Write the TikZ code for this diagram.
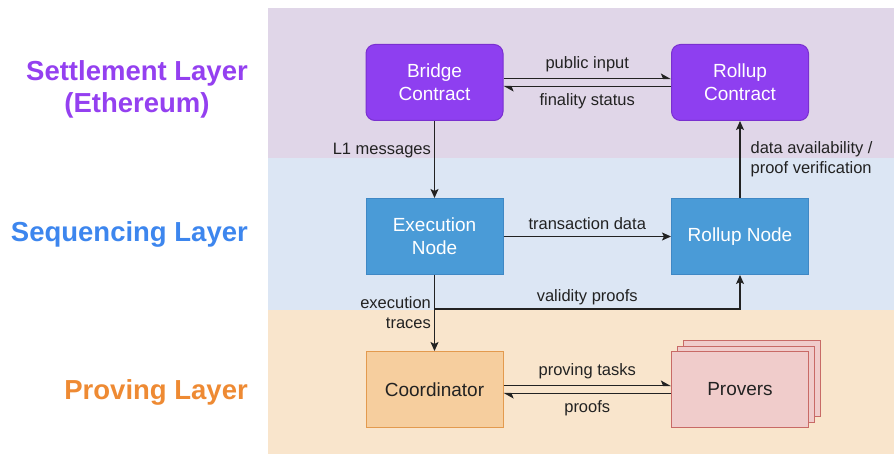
\documentclass[tikz,border=0pt]{standalone}
\usepackage{fontspec}
\setmainfont{Liberation Sans}
\usetikzlibrary{arrows.meta}

\definecolor{setbg}{HTML}{E0D6E8}
\definecolor{seqbg}{HTML}{DCE6F4}
\definecolor{provbg}{HTML}{F9E5CC}
\definecolor{purfill}{HTML}{8E3FF0}
\definecolor{purline}{HTML}{7A30D0}
\definecolor{bluefill}{HTML}{4A9BD7}
\definecolor{blueline}{HTML}{3F88C5}
\definecolor{orfill}{HTML}{F6CE9E}
\definecolor{orline}{HTML}{E39A4E}
\definecolor{redfill}{HTML}{F0CCCB}
\definecolor{redline}{HTML}{C86A66}
\definecolor{ttlpur}{HTML}{9440F0}
\definecolor{ttlblue}{HTML}{3D86EE}
\definecolor{ttlor}{HTML}{EE8A33}
\definecolor{ink}{HTML}{222222}

\begin{document}
\begin{tikzpicture}[x=1pt,y=-1pt,
  box/.style={minimum width=137pt,minimum height=76pt,line width=1pt,align=center,
    font=\fontsize{19}{23}\selectfont,inner sep=0pt},
  purplebox/.style={box,rounded corners=9pt,fill=purfill,draw=purline,text=white},
  bluebox/.style={box,fill=bluefill,draw=blueline,text=white},
  orangebox/.style={box,fill=orfill,draw=orline,text=ink},
  redbox/.style={box,fill=redfill,draw=redline,text=ink},
  lbl/.style={font=\fontsize{16.5}{20}\selectfont,text=ink,inner sep=1pt},
  ttl/.style={font=\fontsize{27.5}{32}\selectfont\bfseries,align=center,anchor=east,inner sep=0pt},
  arr/.style={draw=ink,line width=1.2pt,-{Stealth[length=9pt,width=8pt,inset=2pt]}},
  harp/.style={draw=ink,line width=1.2pt,-{Stealth[harpoon,length=9pt,width=10pt,inset=2pt]}},
  plain/.style={draw=ink,line width=1.2pt}]
\useasboundingbox (0,0) rectangle (894,454);

% layer bands
\fill[setbg] (268,8) rectangle (894,158);
\fill[seqbg] (268,158) rectangle (894,310);
\fill[provbg] (268,310) rectangle (894,454);

% layer titles
\node[ttl,text=ttlpur] (tset) at (248,89) {Settlement Layer\\(Ethereum)};
\node[ttl,text=ttlblue] (tseq) at (248,234) {Sequencing Layer};
\node[ttl,text=ttlor] (tprov) at (248,392) {Proving Layer};

% components
\node[purplebox] (bridge) at (434.5,82.5) {Bridge\\Contract};
\node[purplebox] (rc) at (740,82.5) {Rollup\\Contract};
\node[bluebox] (exec) at (434.5,236.5) {Execution\\Node};
\node[bluebox] (rn) at (740,236.5) {Rollup Node};
\node[orangebox] (coord) at (434.5,389.5) {Coordinator};
\node[redbox] (pv3) at (752,378.5) {};
\node[redbox] (pv2) at (746,384) {};
\node[redbox] (prov) at (740,389.5) {Provers};

% settlement exchange
\draw[harp] ([yshift=4pt]bridge.east) -- ([yshift=4pt]rc.west)
  node[lbl,midway,above=5pt] {public input};
\draw[harp] ([yshift=-4pt]rc.west) -- ([yshift=-4pt]bridge.east)
  node[lbl,midway,below=5pt] {finality status};

% vertical flows
\draw[arr] (bridge) -- (exec) node[lbl,pos=0.38,left=2pt] {L1 messages};
\draw[arr] (rn) -- (rc) node[lbl,midway,right=9pt,align=left] {data availability /\\proof verification};
\draw[arr] (exec) -- (rn) node[lbl,midway,above=5pt] {transaction data};
\draw[arr] (exec) -- (coord) node[lbl,midway,left=2pt,align=right] {execution\\traces};

% validity proofs branch
\coordinate (j) at (434.5,309);
\draw[arr] (j) -| (rn.south) node[lbl,pos=0.25,above=2pt] {validity proofs};

% proving exchange
\draw[harp] ([yshift=4pt]coord.east) -- ([yshift=4pt]prov.west)
  node[lbl,midway,above=5pt] {proving tasks};
\draw[harp] ([yshift=-4pt]prov.west) -- ([yshift=-4pt]coord.east)
  node[lbl,midway,below=5pt] {proofs};
\end{tikzpicture}
\end{document}
